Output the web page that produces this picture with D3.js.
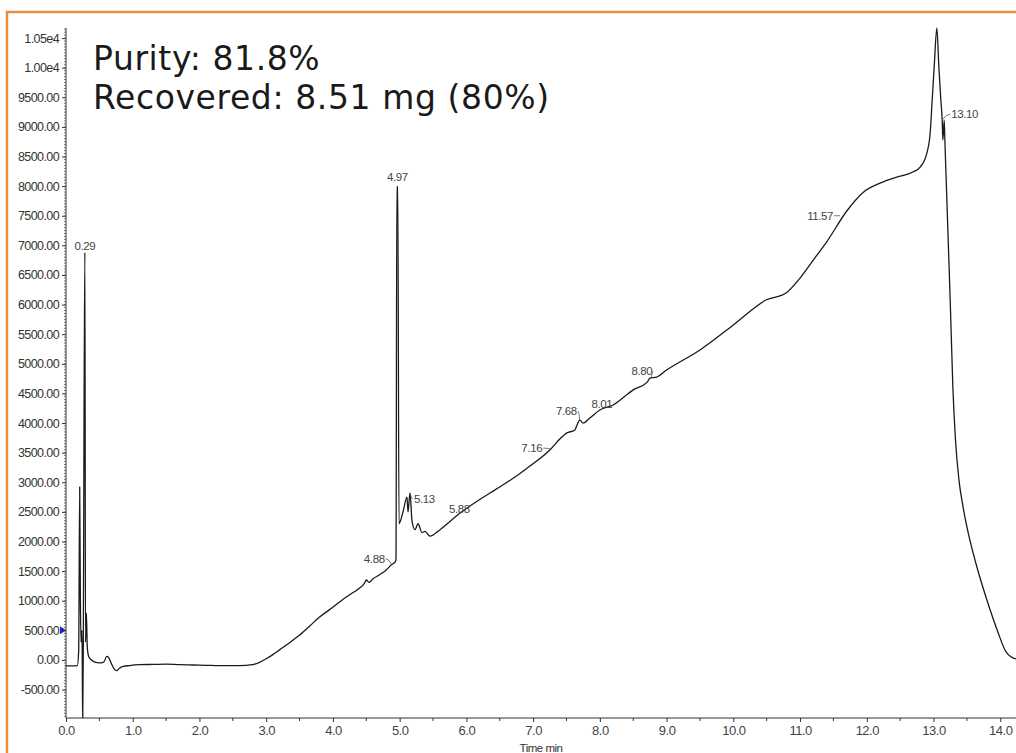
<!DOCTYPE html>
<html>
<head>
<meta charset="utf-8">
<script src="https://cdn.jsdelivr.net/npm/d3@7"></script>
<style>
html,body{margin:0;padding:0;background:#fff;}
svg{display:block;}
</style>
</head>
<body>
<svg id="chart" width="1016" height="753"></svg>
<script>
// ---- data ----
const timeMin = [
  0.00,0.10,0.17,0.19,0.205,0.215,0.225,0.24,0.25,0.26,0.27,0.283,0.292,0.305,0.32,0.34,0.38,0.45,0.52,0.57,0.61,0.64,0.68,0.72,0.76,0.80,0.86,0.95,
  1.10,1.30,1.50,1.70,1.90,2.10,2.30,2.50,2.70,2.80,2.90,3.00,3.10,3.20,3.35,3.50,3.65,3.80,3.95,4.10,4.25,4.40,4.47,4.50,4.54,4.60,4.70,4.80,4.88,4.93,
  4.945,4.958,4.972,4.99,5.05,5.11,5.125,5.155,5.185,5.23,5.275,5.335,5.38,5.455,5.605,5.905,6.354,6.50,6.90,7.25,7.43,7.50,7.62,7.70,7.75,7.85,8.00,8.20,8.50,8.71,8.75,8.85,
  9.00,9.50,10.00,10.49,10.79,11.00,11.22,11.40,11.70,11.94,12.20,12.45,12.69,12.80,12.90,12.95,12.98,13.01,13.05,13.08,13.11,13.13,13.14,13.16,13.17,13.20,13.22,13.25,13.29,13.33,13.38,13.44,13.52,13.65,13.80,13.97,14.07,14.19,14.24
];
const signal = [
  -100,-100,-95,150,2920,1100,300,500,-1100,300,4000,6880,300,790,200,60,0,-40,-50,-30,60,40,-60,-150,-180,-140,-110,-95,
  -80,-75,-70,-80,-85,-90,-95,-95,-90,-80,-40,20,90,170,290,420,570,725,850,980,1100,1215,1290,1350,1310,1370,1440,1520,1610,1650,
  1700,7990,7990,2300,2500,2750,2500,2820,2350,2200,2300,2150,2170,2090,2200,2480,2820,2920,3230,3545,3765,3830,3880,4050,4000,4085,4220,4305,4560,4690,4760,4777,
  4895,5233,5655,6077,6195,6448,6786,7060,7580,7890,8052,8153,8238,8322,8558,8896,9453,10010,10670,10010,9453,9115,8778,9115,8778,7765,7090,6077,4600,3700,3050,2600,2144,1570,1013,456,169,34,17
];
const peakNames = ["0.29","4.88","4.97","5.13","5.88","7.16","7.68","8.01","8.80","11.57","13.10"];
const peakTimes = [0.283,4.88,4.965,5.155,5.93,7.27,7.70,7.98,8.77,11.60,13.13];
const peakValues = [6880,1610,7990,2820,2500,3560,4050,4200,4760,7500,9115];
const yTickValues = [-500,0,500,1000,1500,2000,2500,3000,3500,4000,4500,5000,5500,6000,6500,7000,7500,8000,8500,9000,9500,10000,10500];
const yTickLabels = ["-500.00","0.00","500.00","1000.00","1500.00","2000.00","2500.00","3000.00","3500.00","4000.00","4500.00","5000.00","5500.00","6000.00","6500.00","7000.00","7500.00","8000.00","8500.00","9000.00","9500.00","1.00e4","1.05e4"];
const xTickValues = [0,1,2,3,4,5,6,7,8,9,10,11,12,13,14];
const xTickLabels = ["0.0","1.0","2.0","3.0","4.0","5.0","6.0","7.0","8.0","9.0","10.0","11.0","12.0","13.0","14.0"];
const annotations = ["Purity: 81.8%","Recovered: 8.51 mg (80%)"];

(function(){
// ---- layout ----
const svg = d3.select("#chart");
const pL = 66, pR = 1016, pT = 28, pB = 718;
const x = d3.scaleLinear().domain([0, 14.236]).range([pL, pR]);
const y = d3.scaleLinear().domain([-980, 10670]).range([pB, pT]);

// orange frame
svg.append("path")
  .attr("d", `M7,753 L7,12 L1016,12`)
  .attr("fill","none").attr("stroke","#e8903a").attr("stroke-width",2.5);

// clip
svg.append("defs").append("clipPath").attr("id","plotclip")
  .append("rect").attr("x",pL).attr("y",pT-5).attr("width",pR-pL).attr("height",pB-pT+5);

// y axis
const yAxisG = svg.append("g").attr("transform",`translate(${pL},0)`);
yAxisG.call(d3.axisLeft(y).tickValues(yTickValues).tickSize(4).tickPadding(3)
  .tickFormat((d,i)=>yTickLabels[i]));
yAxisG.select(".domain").attr("d",`M0,${pT}V${pB}`).attr("stroke","#333");
yAxisG.selectAll(".tick line").attr("stroke","#333");
yAxisG.selectAll(".tick text").attr("font-family","Liberation Sans, Arial, sans-serif")
  .attr("font-size","12.5px").attr("letter-spacing","-0.6px").attr("fill","#333");
const yMinor = d3.range(-950, 10651, 50);
yAxisG.selectAll(".yminor").data(yMinor).enter().append("line")
  .attr("class","yminor").attr("x1",-2).attr("x2",0)
  .attr("y1",d=>y(d)).attr("y2",d=>y(d)).attr("stroke","#555").attr("stroke-width",0.8);

// x axis
const xAxisG = svg.append("g").attr("transform",`translate(0,${pB})`);
xAxisG.call(d3.axisBottom(x).tickValues(xTickValues).tickSize(4).tickPadding(4)
  .tickFormat((d,i)=>xTickLabels[i]));
xAxisG.select(".domain").attr("d",`M${pL},0H${pR}`).attr("stroke","#333");
xAxisG.selectAll(".tick line").attr("stroke","#333");
xAxisG.selectAll(".tick text").attr("font-family","Liberation Sans, Arial, sans-serif")
  .attr("font-size","13px").attr("letter-spacing","-0.5px").attr("fill","#444");
const xMinor = d3.range(0.5, 14.2, 1);
xAxisG.selectAll(".xminor").data(xMinor).enter().append("line")
  .attr("class","xminor").attr("x1",d=>x(d)).attr("x2",d=>x(d))
  .attr("y1",0).attr("y2",3).attr("stroke","#333");

svg.append("text").attr("x",541).attr("y",752).attr("text-anchor","middle")
  .attr("font-family","Liberation Sans, Arial, sans-serif").attr("font-size","11.5px")
  .attr("letter-spacing","-0.5px").attr("fill","#333").text("Time min");

// blue marker on y axis
svg.append("path")
  .attr("d", `M${pL-6},${y(500)-4} L${pL},${y(500)} L${pL-6},${y(500)+4} Z`)
  .attr("fill","#2222bb");

// trace
const pts = timeMin.map((t,i)=>[t, signal[i]]);
svg.append("path").datum(pts)
  .attr("clip-path","url(#plotclip)")
  .attr("fill","none").attr("stroke","#1a1a1a").attr("stroke-width",1.3)
  .attr("stroke-linejoin","round")
  .attr("d", d3.line().curve(d3.curveMonotoneX).x(d=>x(d[0])).y(d=>y(d[1])));

// peak labels: dx, dy, anchor, leader
const labelOffsets = {
  "0.29":[0,-2,"middle",false],
  "4.88":[-7,-2,"end",true],
  "4.97":[0,-6,"middle",false],
  "5.13":[4,10,"start",true],
  "5.88":[8,1,"end",false],
  "7.16":[-9,3,"end",true],
  "7.68":[-3,-5,"end",true],
  "8.01":[-7,-3,"start",false],
  "8.80":[1,-3,"end",true],
  "11.57":[-7,4,"end",true],
  "13.10":[9,-2,"start",true]
};
const lg = svg.append("g");
peakNames.forEach((name,i)=>{
  const px = x(peakTimes[i]), py = y(peakValues[i]);
  const o = labelOffsets[name];
  const tx = px + o[0], ty = py + o[1];
  lg.append("text").attr("x",tx).attr("y",ty).attr("text-anchor",o[2])
    .attr("font-family","Liberation Sans, Arial, sans-serif").attr("font-size","11.5px")
    .attr("letter-spacing","-0.4px").attr("fill","#444").text(name);
  if (o[3]) {
    const sx = o[2]==="end" ? tx+1 : tx-1;
    const sy = ty-4;
    lg.append("path").attr("d",`M${sx},${sy} Q${(sx+px)/2},${sy} ${px},${py}`)
      .attr("fill","none").attr("stroke","#555").attr("stroke-width",0.8);
  }
});

// annotation text
annotations.forEach((t,i)=>{
  svg.append("text").attr("x",93).attr("y",70 + i*38.5)
    .attr("font-family","DejaVu Sans, Verdana, sans-serif").attr("font-size","33px")
    .attr("letter-spacing","0.6px").attr("fill","#1a1a1a").text(t);
});
})();
</script>
</body>
</html>
